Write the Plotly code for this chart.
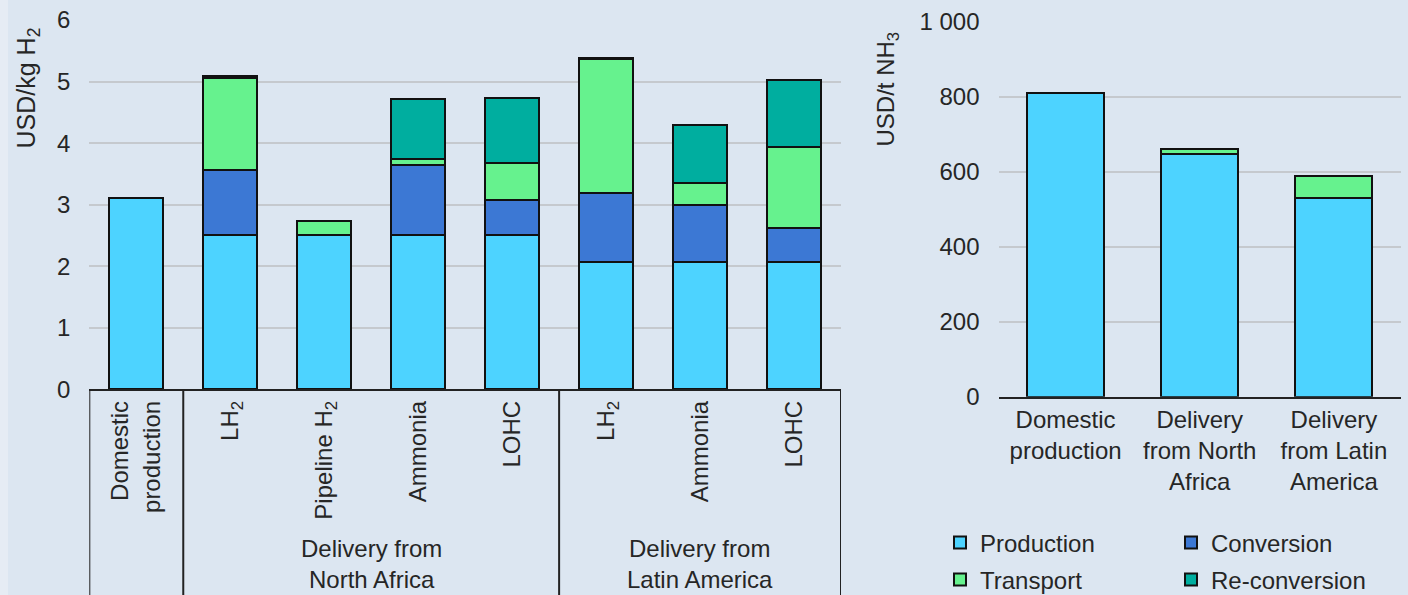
import plotly.graph_objects as go

# ---------------- data ----------------
left_categories = ["Domestic<br>production", "LH<sub>2</sub>", "Pipeline H<sub>2</sub>", "Ammonia",
                   "LOHC", "LH<sub>2</sub>", "Ammonia", "LOHC"]
left_groups = ["Delivery from<br>North Africa", "Delivery from<br>Latin America"]
left_group_spans = [(1, 4), (5, 7)]

production_h2 = [3.10, 2.50, 2.50, 2.50, 2.50, 2.07, 2.07, 2.07]
conversion_h2 = [None, 1.06, None, 1.15, 0.57, 1.12, 0.93, 0.55]
transport_h2 = [None, 1.50, 0.23, 0.09, 0.60, 2.17, 0.35, 1.31]
reconversion_h2 = [None, 0.03, None, 0.97, 1.07, 0.03, 0.95, 1.09]

right_categories = ["Domestic<br>production", "Delivery<br>from North<br>Africa", "Delivery<br>from Latin<br>America"]
production_nh3 = [810, 647, 530]
conversion_nh3 = [None, None, None]
transport_nh3 = [None, 13, 58]
reconversion_nh3 = [None, None, None]

series_names = ["Production", "Conversion", "Transport", "Re-conversion"]
series_colors = ["#4dd3ff", "#3c78d4", "#66f28e", "#00ae9f"]

y_left_ticks = [0, 1, 2, 3, 4, 5, 6]
y_right_ticks = [0, 200, 400, 600, 800, 1000]
y_right_ticklabels = ["0", "200", "400", "600", "800", "1 000"]

# ---------------- figure ----------------
W, H = 1408, 595
FONT = "Liberation Sans, Arial, sans-serif"
TXT = "#262626"
BG = "#dce6f1"
OUTLINE = dict(color="#111111", width=2)

fig = go.Figure()
left_x = list(range(len(left_categories)))
left_series = [production_h2, conversion_h2, transport_h2, reconversion_h2]
right_series = [production_nh3, conversion_nh3, transport_nh3, reconversion_nh3]

for name, color, vals in zip(series_names, series_colors, left_series):
    fig.add_trace(go.Bar(x=left_x, y=vals, name=name, marker=dict(color=color, line=OUTLINE),
                         xaxis="x", yaxis="y", showlegend=False))

legend_of = {"Production": "legend", "Conversion": "legend", "Transport": "legend2", "Re-conversion": "legend2"}
for name, color, vals in zip(series_names, series_colors, right_series):
    fig.add_trace(go.Bar(x=right_categories, y=vals, name=name,
                         marker=dict(color=color, line=OUTLINE),
                         xaxis="x2", yaxis="y2", showlegend=True, legend=legend_of[name]))

def px(v):
    return v / W

def py(v):
    return (H - v) / H

left_dom = [px(89.3), px(841)]
left_ydom = [py(389.3), py(20)]
right_dom = [px(998.5), px(1401)]
right_ydom = [py(396.7), py(21.7)]

grid = dict(showgrid=True, gridcolor="#c5c9ce", gridwidth=2, zeroline=False)
leg = dict(orientation="h", xanchor="left", yanchor="middle", traceorder="normal",
           font=dict(size=24, color=TXT), entrywidth=186, entrywidthmode="pixels",
           bgcolor="rgba(0,0,0,0)", borderwidth=0, itemclick=False, itemdoubleclick=False)

fig.update_layout(
    width=W, height=H, margin=dict(l=0, r=0, t=0, b=0, pad=0, autoexpand=False),
    paper_bgcolor=BG, plot_bgcolor=BG,
    barmode="stack", bargap=0.425,
    font=dict(family=FONT, size=24, color=TXT),
    xaxis=dict(domain=left_dom, range=[-0.5, 7.5], tickmode="array", tickvals=left_x, ticktext=left_categories,
               tickangle=-90, showline=True, linecolor="#222222", linewidth=2, ticks="", showgrid=False,
               anchor="y", automargin=False, tickfont=dict(size=24, color=TXT)),
    yaxis=dict(domain=left_ydom, range=[0, 6], tickmode="array", tickvals=y_left_ticks, ticks="",
               ticklabelstandoff=18, anchor="x", automargin=False, tickfont=dict(size=24, color=TXT), **grid),
    xaxis2=dict(domain=right_dom, showline=True, linecolor="#222222", linewidth=2, ticks="", showgrid=False,
                anchor="y2", automargin=False, tickfont=dict(size=24, color=TXT)),
    yaxis2=dict(domain=right_ydom, range=[0, 1000], tickmode="array", tickvals=y_right_ticks,
                ticktext=y_right_ticklabels, ticks="", ticklabelstandoff=18, anchor="x2", automargin=False,
                tickfont=dict(size=24, color=TXT), **grid),
    legend=dict(x=px(940), y=py(543), **leg),
    legend2=dict(x=px(940), y=py(580), **leg),
)

# lighter strip at the left edge
fig.add_shape(type="rect", xref="paper", yref="paper", x0=0, x1=px(8), y0=0, y1=1,
              fillcolor="#e6ecf4", line=dict(width=0), layer="below")

# group dividers below left axis
for xv in [-0.5, 0.5, 4.5, 7.5]:
    fig.add_shape(type="line", xref="x", yref="paper", x0=xv, x1=xv, y0=0, y1=left_ydom[0],
                  line=dict(color="#222222", width=2))

# group labels
for label, (a, b) in zip(left_groups, left_group_spans):
    fig.add_annotation(x=(a + b) / 2, xref="x", y=py(564), yref="paper", text=label, showarrow=False,
                       font=dict(size=24, color=TXT), xanchor="center", yanchor="middle", align="center")

# axis titles
fig.add_annotation(x=px(28), y=py(26), xref="paper", yref="paper", text="USD/kg H<sub>2</sub>", textangle=-90,
                   showarrow=False, xanchor="center", yanchor="top", font=dict(size=25, color=TXT))
fig.add_annotation(x=px(887), y=py(30), xref="paper", yref="paper", text="USD/t NH<sub>3</sub>", textangle=-90,
                   showarrow=False, xanchor="center", yanchor="top", font=dict(size=24, color=TXT))

fig.write_html("out.html")
